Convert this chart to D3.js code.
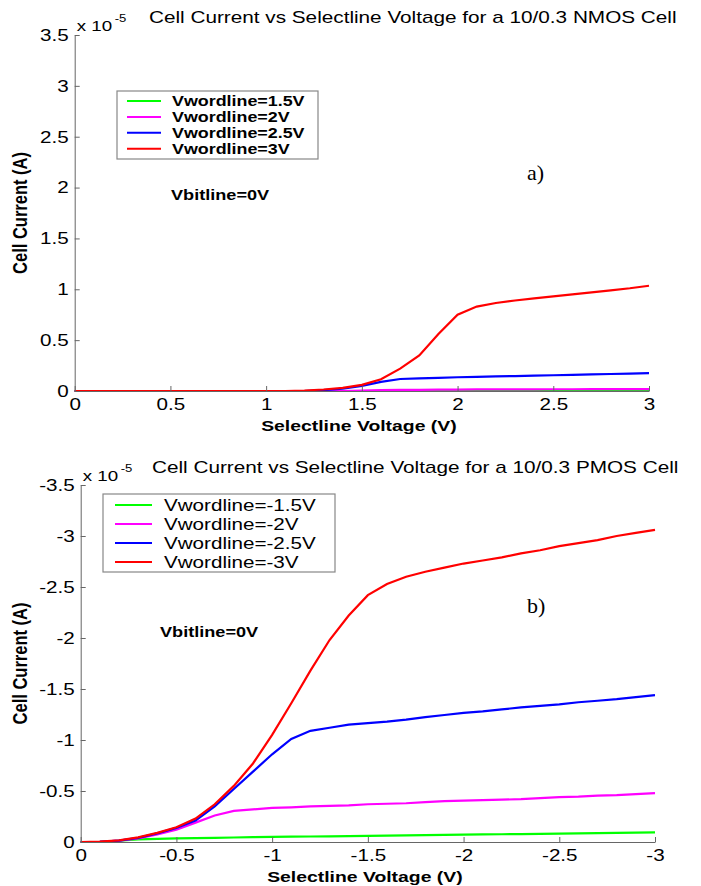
<!DOCTYPE html>
<html>
<head>
<meta charset="utf-8">
<script src="https://cdn.jsdelivr.net/npm/d3@7"></script>
<style>
body { margin: 0; background: #fff; }
svg { display: block; }
text { font-family: "Liberation Sans", Arial, sans-serif; fill: #000; }
</style>
</head>
<body>
<div id="fig"></div>
<script>
// ---- data (currents in units of 1e-5 A) ----
const voltsN = [0,0.1,0.2,0.3,0.4,0.5,0.6,0.7,0.8,0.9,1.0,1.1,1.2,1.3,1.4,1.5,1.6,1.7,1.8,1.9,2.0,2.1,2.2,2.3,2.4,2.5,2.6,2.7,2.8,2.9,3.0];
const nmos15 = [0,0,0,0,0,0,0,0,0,0,0,0,0,0,0,0,0,0,0,0,0,0.001,0.001,0.001,0.001,0.001,0.001,0.002,0.002,0.002,0.002];
const nmos2  = [0,0,0,0,0,0,0,0,0,0,0,0,0,0,0,0.005,0.009,0.011,0.012,0.013,0.014,0.015,0.015,0.016,0.016,0.017,0.017,0.018,0.018,0.019,0.019];
const nmos25 = [0,0,0,0,0,0,0,0,0,0,0,0,0,0.008,0.022,0.05,0.09,0.118,0.125,0.13,0.135,0.139,0.143,0.147,0.151,0.155,0.159,0.163,0.167,0.171,0.175];
const nmos3  = [0,0,0,0,0,0,0,0,0,0,0,0,0.005,0.015,0.03,0.06,0.115,0.22,0.35,0.56,0.75,0.83,0.865,0.89,0.91,0.93,0.95,0.97,0.99,1.01,1.035];

const voltsP = [0,-0.1,-0.2,-0.3,-0.4,-0.5,-0.6,-0.7,-0.8,-0.9,-1.0,-1.1,-1.2,-1.3,-1.4,-1.5,-1.6,-1.7,-1.8,-1.9,-2.0,-2.1,-2.2,-2.3,-2.4,-2.5,-2.6,-2.7,-2.8,-2.9,-3.0];
const pmos15 = [0,-0.002,-0.012,-0.025,-0.03,-0.035,-0.038,-0.041,-0.044,-0.047,-0.05,-0.052,-0.054,-0.056,-0.058,-0.06,-0.062,-0.065,-0.067,-0.07,-0.072,-0.074,-0.076,-0.078,-0.08,-0.082,-0.085,-0.087,-0.09,-0.092,-0.095];
const pmos2  = [0,-0.002,-0.013,-0.035,-0.075,-0.12,-0.19,-0.26,-0.305,-0.32,-0.334,-0.34,-0.35,-0.355,-0.36,-0.37,-0.375,-0.38,-0.39,-0.4,-0.405,-0.41,-0.415,-0.42,-0.43,-0.44,-0.445,-0.455,-0.46,-0.47,-0.48];
const pmos25 = [0,-0.002,-0.014,-0.04,-0.085,-0.138,-0.21,-0.35,-0.52,-0.69,-0.86,-1.01,-1.09,-1.12,-1.15,-1.165,-1.18,-1.2,-1.225,-1.245,-1.265,-1.28,-1.3,-1.32,-1.335,-1.35,-1.37,-1.385,-1.4,-1.42,-1.44];
const pmos3  = [0,-0.003,-0.016,-0.046,-0.09,-0.145,-0.23,-0.37,-0.55,-0.77,-1.05,-1.36,-1.68,-1.98,-2.22,-2.42,-2.53,-2.6,-2.65,-2.69,-2.73,-2.76,-2.79,-2.83,-2.86,-2.9,-2.93,-2.96,-3.0,-3.03,-3.06];

const colors = ["#00ff00", "#ff00ff", "#0000ff", "#ff0000"];
const namesN = ["Vwordline=1.5V", "Vwordline=2V", "Vwordline=2.5V", "Vwordline=3V"];
const namesP = ["Vwordline=-1.5V", "Vwordline=-2V", "Vwordline=-2.5V", "Vwordline=-3V"];
const xTicksN = [0,0.5,1,1.5,2,2.5,3];
const yTicksN = [0,0.5,1,1.5,2,2.5,3,3.5];
const xTicksP = [0,-0.5,-1,-1.5,-2,-2.5,-3];
const yTicksP = [0,-0.5,-1,-1.5,-2,-2.5,-3,-3.5];

// the original figure is stretched sideways
const SX = 1.25;

const svg = d3.select("#fig").append("svg")
    .attr("width", 701)
    .attr("height", 886);

function label(g, str, x, y, size, opts) {
    opts = opts || {};
    const t = g.append("text")
        .attr("transform", "translate(" + x + "," + y + ") scale(" + (opts.sx || SX) + ",1)")
        .attr("font-size", size)
        .attr("text-anchor", opts.anchor || "start")
        .text(str);
    if (opts.bold) t.attr("font-weight", "bold");
    if (opts.family) t.style("font-family", opts.family);
    return t;
}

function panel(p) {
    const g = svg.append("g");
    const x = d3.scaleLinear().domain(p.xDomain).range([p.left, p.right]);
    const y = d3.scaleLinear().domain(p.yDomain).range([p.bottom, p.top]);

    const line = d3.line().x(d => x(d[0])).y(d => y(d[1]));
    p.series.forEach(function (s, i) {
        g.append("path")
            .datum(p.volts.map((v, j) => [v, s[j]]))
            .attr("fill", "none")
            .attr("stroke", colors[i])
            .attr("stroke-width", 2.2)
            .attr("d", line);
    });

    const xAxis = d3.axisBottom(x).tickValues(p.xTicks).tickSize(-5).tickSizeOuter(0)
        .tickPadding(7).tickFormat(d => String(d));
    const yAxis = d3.axisLeft(y).tickValues(p.yTicks).tickSize(-5).tickSizeOuter(0)
        .tickPadding(6).tickFormat(d => String(d));

    const gx = g.append("g").attr("transform", "translate(0," + p.bottom + ")").call(xAxis);
    const gy = g.append("g").attr("transform", "translate(" + p.left + ",0)").call(yAxis);
    [gx, gy].forEach(function (a) {
        a.select(".domain").attr("stroke", "#666").attr("stroke-width", 1);
        a.selectAll(".tick line").attr("stroke", "#666");
        a.selectAll(".tick text").attr("font-size", 16.5).attr("fill", "#000")
            .style("font-family", '"Liberation Sans", Arial, sans-serif');
    });
    gx.selectAll(".tick text").attr("transform", "scale(" + SX + ",1)");
    gy.selectAll(".tick text").attr("x", -6 / SX).attr("transform", "scale(" + SX + ",1)");

    // exponent and title
    label(g, "x 10", p.left + 2, p.top - 4, 15);
    label(g, "-5", p.left + 40, p.top - 13, 10.5);
    label(g, p.title, p.titleX, p.top - 12, 16.6);

    // axis labels
    label(g, "Selectline Voltage (V)", (p.left + p.right) / 2 - 3, p.bottom + 40, 15.5, {anchor: "middle", bold: true});
    g.append("text")
        .attr("transform", "translate(27," + ((p.top + p.bottom) / 2) + ") rotate(-90) scale(1," + SX + ")")
        .attr("font-size", 16.5)
        .attr("font-weight", "bold")
        .attr("text-anchor", "middle")
        .text("Cell Current (A)");

    // legend
    const L = p.legend;
    g.append("rect")
        .attr("x", L.x).attr("y", L.y).attr("width", L.w).attr("height", L.h)
        .attr("fill", "#fff").attr("stroke", "#888").attr("stroke-width", 1.2);
    p.names.forEach(function (n, i) {
        const cy = L.y + L.first + i * L.step;
        g.append("line")
            .attr("x1", L.x + L.l1).attr("x2", L.x + L.l2)
            .attr("y1", cy).attr("y2", cy)
            .attr("stroke", colors[i]).attr("stroke-width", 2);
        label(g, n, L.x + L.tx, cy + L.size * 0.36, L.size, {bold: L.bold});
    });

    label(g, "Vbitline=0V", p.vbX, p.vbY, 14.5, {bold: true});
    label(g, p.tag, p.tagX, p.tagY, 22, {sx: 1, family: '"Liberation Serif", "Times New Roman", serif'});
}

panel({
    left: 74.7, right: 649, top: 35, bottom: 391,
    xDomain: [0, 3], yDomain: [0, 3.5],
    xTicks: xTicksN, yTicks: yTicksN,
    volts: voltsN, series: [nmos15, nmos2, nmos25, nmos3], names: namesN,
    title: "Cell Current vs Selectline Voltage for a 10/0.3 NMOS Cell", titleX: 149,
    legend: {x: 117, y: 91, w: 201, h: 68, first: 10, step: 15.9, l1: 10, l2: 44, tx: 55, size: 14.3, bold: true},
    vbX: 171, vbY: 200, tag: "a)", tagX: 527, tagY: 180
});

panel({
    left: 80.7, right: 655, top: 485, bottom: 842,
    xDomain: [0, -3], yDomain: [0, -3.5],
    xTicks: xTicksP, yTicks: yTicksP,
    volts: voltsP, series: [pmos15, pmos2, pmos25, pmos3], names: namesP,
    title: "Cell Current vs Selectline Voltage for a 10/0.3 PMOS Cell", titleX: 152,
    legend: {x: 103, y: 494, w: 232, h: 78, first: 11, step: 19, l1: 12, l2: 49, tx: 61, size: 16.5},
    vbX: 160, vbY: 637, tag: "b)", tagX: 527, tagY: 613
});
</script>
</body>
</html>
